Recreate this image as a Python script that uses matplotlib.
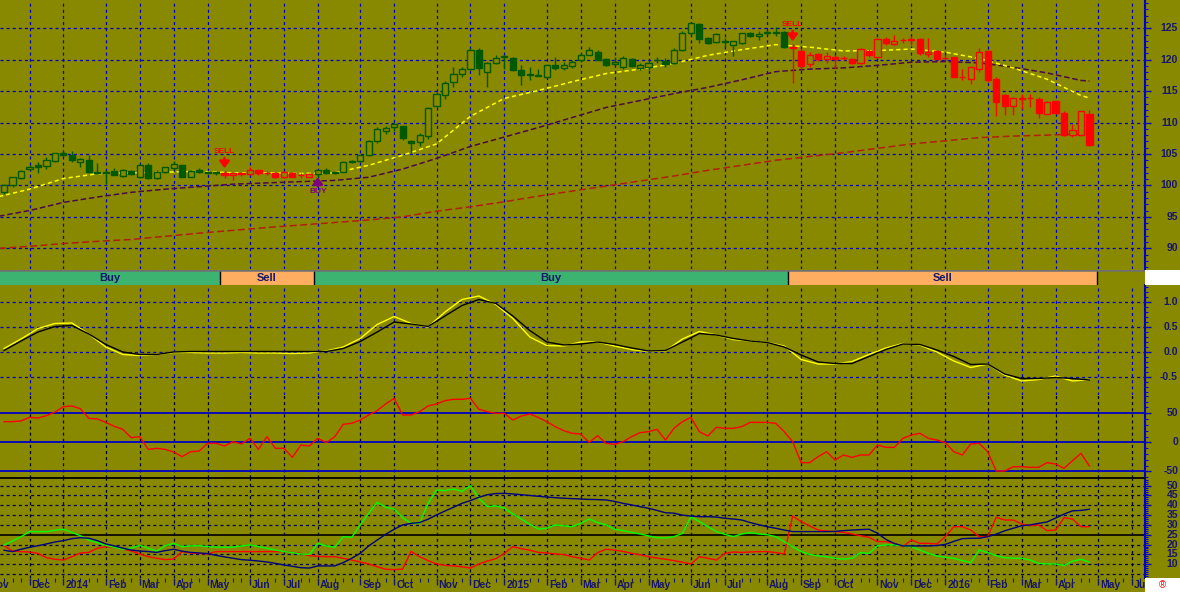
import matplotlib
matplotlib.use('Agg')
import matplotlib.pyplot as plt
from matplotlib.patches import Rectangle
import matplotlib.transforms as mtrans

plt.rcParams['lines.scale_dashes'] = False
plt.rcParams['axes.unicode_minus'] = False
plt.rcParams['font.family'] = ['Liberation Sans', 'DejaVu Sans']

# ---------------- data (weekly bars, week 0 = Fri 2013-11-15) ----------------
opens = [99.0, 100.1, 101.2, 102.6, 103.2, 103.1, 103.9, 105.2, 104.9, 103.8,
         104.1, 102.2, 102.2, 102.3, 101.5, 102.3, 101.3, 103.2, 101.2, 102.1,
         102.7, 103.2, 101.35, 102.5, 102.1, 102.1, 101.9, 101.6, 101.9, 101.8,
         102.4, 102.0, 101.9, 101.35, 102.0, 101.7, 101.35, 101.8, 102.4, 102.15,
         102.2, 103.9, 103.9, 104.8, 107.1, 108.7, 109.25, 109.4, 107.1, 106.9,
         107.9, 112.6, 114.35, 116.4, 117.7, 118.5, 121.5, 118.0, 119.5, 120.4,
         120.3, 118.4, 117.8, 117.5, 117.2, 119.1, 118.7, 119.0, 119.9, 120.8,
         121.3, 120.05, 119.25, 118.8, 120.05, 118.7, 118.8, 119.9, 119.8, 119.5,
         121.6, 124.2, 125.7, 123.4, 122.85, 122.9, 122.4, 122.6, 124.25, 123.8,
         124.3, 124.3, 124.35, 122.0, 121.4, 119.25, 120.9, 120.05, 120.4, 120.35,
         120.05, 119.4, 121.4, 120.5, 123.25, 122.45, 123.1, 123.2, 123.25, 120.85,
         121.4, 120.25, 120.4, 117.2, 117.0, 118.6, 121.4, 117.0, 114.4, 112.6,
         113.8, 113.95, 113.7, 111.4, 113.4, 111.6, 108.0, 108.0, 111.4]
highs = [100.3, 101.4, 102.5, 103.2, 103.8, 104.5, 105.2, 105.4, 105.4, 104.4,
         104.9, 103.5, 102.4, 102.7, 102.6, 102.5, 103.4, 103.5, 102.5, 103.0,
         103.9, 103.3, 102.5, 102.8, 102.3, 102.2, 102.3, 102.0, 102.1, 103.0,
         102.5, 102.3, 102.0, 102.3, 102.2, 102.0, 101.9, 102.5, 102.8, 102.2,
         103.9, 104.0, 104.9, 107.2, 109.3, 109.4, 109.9, 109.5, 107.2, 108.3,
         112.5, 114.9, 116.6, 118.9, 118.8, 121.9, 121.8, 119.6, 120.8, 120.8,
         120.5, 119.2, 118.9, 118.5, 119.2, 120.5, 119.6, 119.9, 121.0, 122.1,
         121.5, 120.2, 120.4, 120.6, 120.3, 119.5, 119.9, 120.5, 120.2, 121.8,
         124.6, 125.9, 125.8, 123.6, 124.3, 123.5, 123.0, 124.3, 124.4, 124.6,
         124.8, 125.2, 124.5, 122.5, 121.8, 121.3, 121.1, 121.3, 120.75, 120.6,
         120.2, 121.8, 121.65, 123.4, 123.55, 123.9, 123.5, 123.8, 123.4, 123.5,
         121.5, 120.75, 120.5, 118.6, 119.0, 121.8, 121.55, 117.3, 114.6, 114.0,
         114.6, 114.5, 114.0, 113.4, 113.5, 111.9, 109.7, 111.9, 112.0]
lows = [98.7, 99.7, 101.0, 102.4, 102.0, 102.6, 103.8, 104.7, 103.8, 103.0,
        101.9, 101.8, 100.3, 101.6, 101.4, 101.6, 101.1, 101.0, 101.0, 101.9,
        102.5, 101.3, 101.3, 102.0, 101.9, 101.6, 101.2, 100.8, 101.5, 101.7,
        101.7, 101.6, 101.2, 101.2, 101.3, 101.2, 101.3, 101.3, 101.8, 101.8,
        102.1, 103.5, 103.8, 104.7, 106.7, 108.2, 108.6, 107.3, 105.1, 106.2,
        107.4, 112.4, 113.8, 115.6, 117.3, 118.3, 117.5, 115.6, 119.25, 118.5,
        118.2, 115.9, 116.7, 117.4, 117.1, 118.4, 118.4, 118.7, 119.7, 120.7,
        119.9, 119.0, 119.1, 118.6, 118.8, 118.4, 118.4, 119.4, 118.8, 119.3,
        121.4, 124.0, 122.6, 122.5, 122.6, 122.0, 120.6, 122.5, 123.6, 123.2,
        123.9, 123.8, 121.9, 116.3, 118.6, 118.9, 119.8, 119.4, 118.6, 119.9,
        119.3, 119.3, 120.5, 120.3, 122.4, 122.3, 122.7, 122.3, 120.7, 120.5,
        119.9, 119.95, 117.2, 116.75, 116.2, 118.1, 116.5, 111.1, 111.2, 111.2,
        112.1, 112.5, 110.8, 111.3, 111.4, 107.8, 107.7, 107.9, 106.3]
closes = [100.0, 101.3, 102.3, 103.0, 103.0, 104.0, 105.1, 104.8, 104.0, 104.25,
          102.2, 101.9, 102.0, 101.7, 102.4, 101.8, 103.3, 101.2, 102.15, 102.85,
          103.4, 101.4, 102.3, 102.1, 102.0, 101.9, 101.6, 101.9, 101.85, 102.4,
          102.0, 101.95, 101.3, 102.15, 101.35, 101.6, 101.8, 102.4, 101.9, 101.9,
          103.7, 103.65, 104.8, 107.1, 108.9, 109.1, 109.7, 107.5, 106.7, 108.0,
          112.3, 114.5, 116.3, 117.7, 118.5, 121.6, 118.65, 119.5, 120.3, 120.6,
          118.4, 117.5, 117.5, 117.45, 119.1, 118.7, 119.1, 119.7, 120.8, 121.5,
          120.0, 119.2, 119.7, 120.3, 119.0, 119.1, 119.5, 119.95, 119.35, 121.6,
          124.2, 125.8, 123.3, 122.7, 124.1, 122.85, 122.9, 124.2, 123.8, 124.1,
          124.35, 124.35, 122.05, 121.9, 119.0, 120.75, 120.05, 120.6, 120.05, 120.3,
          119.5, 121.65, 120.75, 123.25, 122.6, 122.95, 123.15, 123.25, 121.1, 121.3,
          120.05, 120.2, 117.3, 117.25, 118.9, 121.2, 116.75, 113.3, 112.6, 113.9,
          113.85, 113.9, 111.55, 113.2, 111.55, 108.0, 108.8, 111.8, 106.4]

ma_weeks = [-1, 3, 7, 11, 15, 19, 23, 27, 31, 35, 39, 43, 47, 51, 55, 59, 63,
            67, 71, 75, 79, 83, 87, 91, 95, 99, 103, 107, 111, 115, 119, 123, 127, 128]
ma_fast = [98.1, 99.4, 101.1, 101.85, 102.0, 102.1, 102.25, 102.0, 102.0, 101.9,
           102.0, 103.2, 104.8, 106.6, 111.0, 113.85, 115.1, 116.5, 117.8, 118.5,
           119.4, 120.7, 121.6, 122.4, 122.0, 121.4, 121.45, 121.7, 121.2, 120.2,
           118.7, 116.9, 114.3, 113.9]
ma_mid = [95.0, 96.0, 97.3, 98.15, 98.9, 99.4, 99.8, 100.2, 100.4, 100.6,
          100.8, 101.3, 102.6, 104.3, 106.2, 107.7, 109.2, 110.8, 112.4, 113.5,
          114.6, 115.6, 116.8, 118.1, 118.5, 118.7, 119.1, 119.6, 119.7, 119.5,
          118.8, 117.9, 116.7, 116.6]
ma_slow = [89.95, 90.3, 90.75, 91.1, 91.4, 91.9, 92.4, 92.85, 93.3, 93.7,
           94.1, 94.5, 95.0, 95.9, 96.6, 97.4, 98.3, 99.1, 99.9, 100.7,
           101.5, 102.4, 103.2, 104.0, 104.6, 105.2, 105.9, 106.6, 107.1, 107.6,
           107.85, 108.0, 108.2, 108.2]

# signal band (week boundaries)
band_starts = [-0.48, 25.5, 36.5, 92.5]
band_ends = [25.5, 36.5, 92.5, 128.9]
band_labels = ['Buy', 'Sell', 'Buy', 'Sell']

# signal arrows
sig_weeks = [26, 37, 93]
sig_types = ['SELL', 'BUY', 'SELL']

# MACD-type panel (every 2 weeks)
macd_weeks = list(range(0, 129, 2))
macd_fast = [0.07, 0.26, 0.47, 0.57, 0.58, 0.36, 0.10, -0.05, -0.07, -0.05,
             -0.01, -0.01, -0.02, -0.02, -0.01, -0.02, -0.02, -0.03, -0.02, 0.02,
             0.10, 0.27, 0.55, 0.71, 0.57, 0.50, 0.80, 1.05, 1.12, 0.95,
             0.67, 0.30, 0.13, 0.12, 0.20, 0.20, 0.12, 0.05, 0.01, 0.02,
             0.26, 0.41, 0.34, 0.25, 0.22, 0.19, 0.12, -0.15, -0.24, -0.24,
             -0.19, -0.05, 0.08, 0.17, 0.14, 0.0, -0.18, -0.31, -0.24, -0.46,
             -0.58, -0.55, -0.48, -0.58, -0.55]
macd_slow = [0.03, 0.22, 0.40, 0.51, 0.53, 0.36, 0.15, 0.0, -0.05, -0.05,
             0.0, 0.01, 0.01, 0.01, 0.01, 0.01, 0.01, 0.01, 0.01, 0.01,
             0.07, 0.21, 0.40, 0.60, 0.56, 0.51, 0.72, 0.93, 1.05, 0.97,
             0.72, 0.43, 0.20, 0.14, 0.16, 0.20, 0.15, 0.08, 0.02, 0.03,
             0.20, 0.37, 0.34, 0.27, 0.22, 0.19, 0.10, -0.06, -0.20, -0.23,
             -0.23, -0.09, 0.05, 0.16, 0.15, 0.04, -0.09, -0.25, -0.24, -0.44,
             -0.53, -0.53, -0.51, -0.53, -0.56]

# oscillator (weekly)
osc = [35.6, 35.6, 36.8, 43.0, 41.9, 45.9, 52.2, 61.4, 62.6, 57.9,
       41.3, 40.2, 34.4, 27.5, 22.4, 8.0, 9.7, -12.2, -10.4, -12.2,
       -16.8, -24.8, -16.2, -15.1, -1.8, -1.8, -6.4, 1.1, -2.9, 6.8,
       -12.2, 9.7, -10.4, -10.4, -26.0, -4.7, -6.4, 6.8, -0.6, 9.7,
       31.0, 32.7, 38.4, 47.1, 54.6, 66.1, 75.8, 47.1, 47.1, 52.8,
       62.6, 66.1, 71.8, 74.1, 74.1, 75.8, 56.9, 52.8, 49.9, 49.9,
       38.4, 45.3, 48.8, 43.0, 35.6, 27.0, 20.1, 15.5, 14.3, -0.1,
       11.4, -1.8, -3.5, 1.1, 9.7, 16.6, 18.3, 22.4, 4.0, 24.1,
       35.6, 43.0, 18.3, 10.8, 25.8, 24.1, 24.1, 27.0, 34.4, 34.4,
       34.4, 32.7, 18.3, 1.1, -35.1, -35.1, -24.8, -16.2, -30.6, -21.9,
       -26.0, -21.9, -21.9, -4.7, -8.7, -8.7, 6.8, 12.5, 15.5, 6.8,
       4.0, -0.6, -16.2, -21.9, -2.9, -1.8, -16.2, -49.5, -49.5, -42.1,
       -42.1, -43.2, -43.2, -35.1, -37.4, -44.9, -31.8, -19.1, -41.0]

# ADX / +DI / -DI (weekly)
adx = [17.1, 16.4, 17.6, 18.6, 19.4, 20.3, 21.3, 22.0, 23.0, 23.5,
       23.2, 22.0, 20.3, 19.3, 18.2, 17.2, 16.7, 16.4, 16.0, 16.9,
       17.6, 16.6, 16.0, 15.7, 15.4, 14.5, 13.7, 13.0, 12.3, 12.0,
       11.6, 11.1, 10.4, 9.6, 8.9, 8.2, 8.0, 9.1, 9.1, 9.1,
       10.8, 13.0, 15.5, 19.3, 22.3, 25.2, 27.8, 30.0, 30.8, 31.2,
       32.9, 35.1, 37.1, 39.0, 41.0, 42.4, 44.1, 45.4, 46.0, 46.1,
       45.8, 45.4, 45.0, 44.6, 44.2, 43.9, 43.6, 43.4, 43.2, 43.0,
       42.9, 42.7, 42.0, 41.0, 40.2, 39.3, 38.5, 37.4, 36.2, 36.0,
       35.0, 34.5, 34.2, 34.2, 34.0, 33.4, 33.0, 32.5, 31.2, 30.1,
       29.1, 28.3, 27.4, 26.6, 26.6, 26.6, 26.6, 26.6, 26.7, 27.1,
       27.4, 27.6, 27.8, 25.8, 22.6, 20.5, 19.3, 19.3, 19.3, 19.3,
       19.5, 20.1, 21.6, 23.0, 23.2, 23.2, 24.0, 25.3, 27.0, 28.3,
       29.6, 30.0, 30.8, 31.5, 33.5, 35.5, 37.2, 37.4, 38.0]
di_plus = [19.8, 21.8, 24.0, 26.6, 26.6, 26.6, 27.3, 27.8, 26.2, 24.5,
           22.3, 21.0, 19.6, 18.6, 17.6, 18.2, 19.6, 18.1, 16.7, 19.4,
           20.6, 18.9, 19.3, 19.4, 18.9, 18.7, 18.6, 18.7, 19.3, 19.8,
           19.0, 18.1, 17.2, 16.4, 15.9, 15.2, 15.0, 20.6, 19.3, 18.6,
           24.0, 23.7, 30.0, 35.9, 41.5, 39.0, 38.1, 33.7, 30.8, 30.8,
           41.0, 47.8, 47.5, 48.3, 47.1, 50.0, 43.6, 39.3, 39.7, 38.5,
           35.6, 33.0, 30.3, 27.9, 28.3, 30.0, 29.5, 29.1, 30.8, 33.0,
           31.2, 30.0, 27.8, 27.1, 26.2, 25.4, 24.4, 23.5, 23.3, 24.0,
           25.7, 34.2, 31.7, 29.1, 26.6, 25.2, 24.0, 25.4, 26.1, 25.4,
           25.0, 24.0, 21.5, 18.9, 16.4, 15.0, 14.2, 13.8, 13.0, 12.6,
           13.0, 15.9, 15.5, 19.4, 19.8, 19.8, 19.4, 18.9, 17.2, 15.5,
           14.2, 13.5, 13.0, 11.8, 10.8, 17.2, 15.9, 14.3, 13.3, 13.0,
           13.0, 12.1, 10.4, 10.1, 10.1, 9.3, 11.5, 12.5, 11.0]
di_minus = [19.4, 16.7, 16.4, 16.2, 15.5, 13.3, 12.5, 12.1, 13.8, 15.7,
            16.0, 18.1, 18.9, 18.6, 17.7, 16.7, 15.2, 13.8, 13.0, 12.3,
            12.6, 16.4, 15.7, 15.5, 15.2, 16.4, 16.4, 16.4, 16.4, 16.4,
            16.4, 16.4, 16.4, 16.4, 16.0, 15.5, 14.3, 14.0, 13.8, 13.8,
            13.0, 12.1, 11.1, 10.1, 8.7, 7.4, 7.2, 7.5, 16.5, 13.8,
            11.8, 10.1, 9.4, 9.1, 8.7, 8.0, 10.1, 11.6, 12.8, 15.5,
            18.9, 17.9, 17.1, 16.0, 15.7, 15.2, 14.9, 13.8, 13.0, 12.1,
            15.9, 17.6, 17.2, 16.5, 15.5, 14.8, 13.8, 13.1, 12.5, 11.8,
            11.0, 10.1, 13.8, 13.0, 12.1, 15.5, 16.2, 16.0, 16.2, 16.4,
            16.4, 15.9, 15.2, 34.5, 31.7, 29.5, 27.4, 26.9, 26.6, 26.2,
            25.4, 24.5, 23.7, 21.5, 21.5, 20.6, 18.9, 22.3, 20.6, 20.6,
            20.3, 24.0, 29.1, 29.1, 27.4, 24.0, 24.0, 33.9, 32.5, 32.5,
            30.5, 29.6, 30.0, 27.1, 27.4, 33.7, 33.0, 29.1, 29.1]

# month ticks (week index of first bar in month)
month_weeks = [-2, 3, 7, 12, 16, 20, 24, 29, 33, 37, 42, 46, 51, 55, 59, 64,
               68, 72, 76, 81, 85, 90, 94, 98, 103, 107, 111, 116, 120, 124, 129, 133]
month_labels = ['Nov', 'Dec', '2014', 'Feb', 'Mar', 'Apr', 'May', 'Jun', 'Jul',
                'Aug', 'Sep', 'Oct', 'Nov', 'Dec', '2015', 'Feb', 'Mar', 'Apr',
                'May', 'Jun', 'Jul', 'Aug', 'Sep', 'Oct', 'Nov', 'Dec', '2016',
                'Feb', 'Mar', 'Apr', 'May', 'Jun']

price_ticks = [90, 95, 100, 105, 110, 115, 120, 125]
macd_ticks = [-0.5, 0.0, 0.5, 1.0]
osc_ticks = [-50, 0, 50]
adx_ticks = [10, 15, 20, 25, 30, 35, 40, 45, 50]

# ---------------- style ----------------
BG = '#898900'
GRIDBLUE = '#0000c8'
NAVY = '#16166e'
GREEN = '#005800'
RED = '#ff0000'
PURPLE = '#800080'
DASH = (0, (2.2, 2.2))

W, H = 1180, 592
fig = plt.figure(figsize=(W / 100, H / 100), dpi=100, facecolor=BG)


def rect(y0, y1, x0=0, x1=1145):
    return [x0 / W, 1 - y1 / H, (x1 - x0) / W, (y1 - y0) / H]


ax_p = fig.add_axes(rect(0, 269))
ax_b = fig.add_axes(rect(270, 285))
ax_m = fig.add_axes(rect(285, 395))
ax_o = fig.add_axes(rect(395, 478))
ax_a = fig.add_axes(rect(478, 577.5))

XMIN, XMAX = -0.48, 134.55
for ax in (ax_p, ax_b, ax_m, ax_o, ax_a):
    ax.set_facecolor(BG)
    ax.set_xlim(XMIN, XMAX)
    for s in ax.spines.values():
        s.set_visible(False)
    ax.set_xticks([])
    ax.set_yticks([])

ax_p.set_ylim(86.7, 129.5)
ax_m.set_ylim(-0.86, 1.34)
ax_o.set_ylim(-61.55, 81.55)
ax_a.set_ylim(3.2, 53.92)
ax_b.set_ylim(0, 1)


def right_axis(ax, major, minor_step, fmt):
    ax.spines['right'].set_visible(True)
    ax.spines['right'].set_color(GRIDBLUE)
    ax.spines['right'].set_linewidth(1.5)
    ax.yaxis.tick_right()
    lo, hi = ax.get_ylim()
    ax.set_yticks(major)
    k0 = int(lo / minor_step) - 1
    k1 = int(hi / minor_step) + 1
    ax.set_yticks([k * minor_step for k in range(k0, k1 + 1)], minor=True)
    ax.set_ylim(lo, hi)
    ax.tick_params(axis='y', which='both', direction='out', colors=GRIDBLUE,
                   labelright=False, labelleft=False, left=False, right=True)
    ax.tick_params(axis='y', which='major', length=4, width=1)
    ax.tick_params(axis='y', which='minor', length=2, width=0.8)
    trans = mtrans.offset_copy(ax.get_yaxis_transform(), fig=fig, x=33, y=0, units='dots')
    for v in major:
        ax.text(1.0, v, fmt(v), transform=trans, ha='right', va='center',
                color=NAVY, fontsize=7.5, fontweight='bold', clip_on=False)


right_axis(ax_p, price_ticks, 1, lambda v: '%d' % v)
right_axis(ax_m, macd_ticks, 0.1, lambda v: '%.1f' % v)
right_axis(ax_o, osc_ticks, 10, lambda v: '%d' % v)
right_axis(ax_a, adx_ticks, 1, lambda v: '%d' % v)

# ---------------- grids ----------------
for w in month_weeks:
    ax_p.axvline(w, color=GRIDBLUE, lw=0.9, ls=DASH, zorder=1)
    ax_m.axvline(w, color=GRIDBLUE, lw=0.9, ls=DASH, zorder=1)
    ax_o.axvline(w, color='#000030', lw=0.9, ls=DASH, zorder=1)
    ax_a.axvline(w, color='#000030', lw=0.9, ls=DASH, zorder=1)
for v in price_ticks:
    ax_p.axhline(v, color=GRIDBLUE, lw=0.9, ls=DASH, zorder=1)
for v in macd_ticks:
    ax_m.axhline(v, color=GRIDBLUE, lw=0.9, ls=DASH, zorder=1)
for v in osc_ticks:
    ax_o.axhline(v, color=GRIDBLUE, lw=1.3, zorder=1)
for v in range(5, 51, 5):
    if v == 25:
        ax_a.axhline(v, color='black', lw=1.2, zorder=1)
    else:
        ax_a.axhline(v, color='#000060', lw=0.9, ls=DASH, zorder=1)
ax_a.spines['top'].set_visible(True)
ax_a.spines['top'].set_color('black')
ax_a.spines['top'].set_linewidth(1.3)


# ---------------- price panel ----------------
def is_sell(i):
    for s, e, lab in zip(band_starts, band_ends, band_labels):
        if s <= i < e:
            return lab == 'Sell'
    return False


ax_p.plot(ma_weeks, ma_slow, color='#b02010', lw=1.1, ls=(0, (5, 2.5)), zorder=2)
ax_p.plot(ma_weeks, ma_mid, color='#4a0a4a', lw=1.1, ls=(0, (4, 2)), zorder=2)
ax_p.plot(ma_weeks, ma_fast, color='#ffff00', lw=1.1, ls=(0, (3, 2.2)), zorder=2)

for i in range(len(closes)):
    o, h, l, c = opens[i], highs[i], lows[i], closes[i]
    col = RED if is_sell(i) else GREEN
    ax_p.vlines(i, l, h, color=col, lw=1.0, zorder=3)
    lo, hi = min(o, c), max(o, c)
    face = BG if c > o else col
    ax_p.add_patch(Rectangle((i - 0.36, lo), 0.72, max(hi - lo, 0.02),
                             facecolor=face, edgecolor=col, lw=1.0, zorder=4))

ARROW = '-|>,head_width=0.3,head_length=0.4'
for w, t in zip(sig_weeks, sig_types):
    if t == 'SELL':
        y = highs[w]
        ax_p.annotate('', xy=(w, y), xycoords='data',
                      xytext=(0, 13), textcoords='offset pixels',
                      arrowprops=dict(arrowstyle=ARROW, color=RED, lw=1.8,
                                      shrinkA=0, shrinkB=2), zorder=6)
        ax_p.annotate('SELL', xy=(w, y), xycoords='data', xytext=(0, 19),
                      textcoords='offset pixels', ha='center', va='center',
                      color=RED, fontsize=6, fontweight='bold', zorder=6)
    else:
        y = lows[w]
        ax_p.annotate('', xy=(w, y), xycoords='data',
                      xytext=(0, -9), textcoords='offset pixels',
                      arrowprops=dict(arrowstyle=ARROW, color=PURPLE, lw=1.8,
                                      shrinkA=0, shrinkB=0), zorder=6)
        ax_p.annotate('BUY', xy=(w, y), xycoords='data', xytext=(0, -14),
                      textcoords='offset pixels', ha='center', va='center',
                      color=PURPLE, fontsize=6, fontweight='bold', zorder=6)

# ---------------- signal band ----------------
for s, e, lab in zip(band_starts, band_ends, band_labels):
    ax_b.axvspan(s, e, color='#3cb371' if lab == 'Buy' else '#ffad60', lw=0)
    ax_b.text((s + e) / 2, 0.45, lab, ha='center', va='center', color=NAVY,
              fontsize=8, fontweight='bold')
for s in band_starts[1:] + [band_ends[-1]]:
    ax_b.axvline(s, color='black', lw=1.0)
ax_b.axhline(1.0, color='#707070', lw=1.8)

# ---------------- MACD panel ----------------
ax_m.plot(macd_weeks, macd_fast, color='#ffff00', lw=1.0, zorder=3)
ax_m.plot(macd_weeks, macd_slow, color='black', lw=1.0, zorder=4)

# ---------------- oscillator ----------------
ax_o.plot(range(len(osc)), osc, color=RED, lw=1.0, zorder=3)

# ---------------- ADX ----------------
wk = range(len(adx))
ax_a.plot(wk, di_minus, color=RED, lw=1.0, zorder=3)
ax_a.plot(wk, di_plus, color='#00ff00', lw=1.0, zorder=3)
ax_a.plot(wk, adx, color='#000080', lw=1.0, zorder=4)

ax_a.set_xticks(month_weeks)
ax_a.set_xticks(list(range(-3, 135)), minor=True)
ax_a.set_xlim(XMIN, XMAX)
ax_a.tick_params(axis='x', which='both', bottom=True, labelbottom=False,
                 colors=NAVY, direction='out')
ax_a.tick_params(axis='x', which='major', length=5, width=1)
ax_a.tick_params(axis='x', which='minor', length=3, width=0.8)
ltrans = mtrans.offset_copy(ax_a.get_xaxis_transform(), fig=fig, x=2, y=-3, units='dots')
for w, lab in zip(month_weeks, month_labels):
    ax_a.text(w, 0, lab, transform=ltrans, ha='left', va='top', color=NAVY,
              fontsize=7.5, fontweight='bold', clip_on=False)

# white corner boxes
fig.add_artist(Rectangle((1145 / W, 1 - 285 / H), 35 / W, 15 / H, transform=fig.transFigure,
                         facecolor='white', edgecolor='none', zorder=10))
fig.add_artist(Rectangle((1145 / W, 0), 35 / W, 14 / H, transform=fig.transFigure,
                         facecolor='white', edgecolor='none', zorder=10))
fig.text(1162 / W, 7 / H, '\u00ae', color=RED, fontsize=7, ha='center', va='center', zorder=11)

fig.savefig('out.png', dpi=100, facecolor=BG)
